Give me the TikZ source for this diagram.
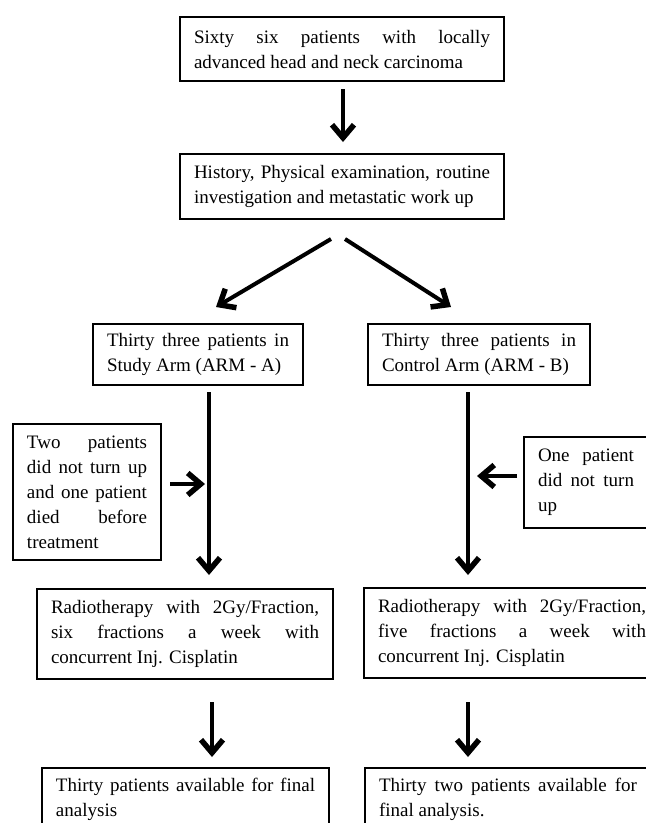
\documentclass[tikz,border=0pt]{standalone}
\usepackage{fontspec}
\setmainfont{Liberation Serif}
\usetikzlibrary{arrows.meta,calc}
\hyphenpenalty=10000
\exhyphenpenalty=10000
\begin{document}
\begin{tikzpicture}[x=1pt,y=-1pt,
  box/.style={draw,line width=2pt,rectangle,anchor=north west,align=justify,
    inner xsep=14pt,inner ysep=8pt,font=\fontsize{19pt}{25pt}\selectfont},
  arr/.style={line width=4pt,-{Straight Barb[length=13pt,width=22pt,line width=5.5pt 0 0]}}]
\useasboundingbox (0,0) rectangle (646,823);
\clip (0,0) rectangle (646,823);
\node[box,text width=296pt,minimum height=64pt] (b1) at (179,16)
  {Sixty six patients with locally\linebreak advanced head and neck carcinoma};
\node[box,text width=296pt,minimum height=65pt] (b2) at (179,153)
  {History, Physical examination, routine\linebreak investigation and metastatic work up};
\node[box,text width=182pt,minimum height=61pt] (bA) at (92,323)
  {Thirty three patients in\linebreak Study Arm (ARM - A)};
\node[box,text width=194pt,minimum height=61pt] (bB) at (367,323)
  {Thirty three patients in\linebreak Control Arm (ARM - B)};
\node[box,text width=120pt,minimum height=136pt] (two) at (12,423)
  {Two patients\linebreak did not turn up\linebreak and one patient\linebreak died before\linebreak treatment};
\node[box,text width=96pt,minimum height=91pt] (one) at (523,436)
  {One patient\linebreak did not turn\linebreak up};
\node[box,text width=268pt,minimum height=90pt] (rA) at (36,588)
  {Radiotherapy with 2Gy/Fraction,\linebreak six fractions a week with\linebreak concurrent Inj. Cisplatin};
\node[box,text width=268pt,minimum height=90pt] (rB) at (363,587)
  {Radiotherapy with 2Gy/Fraction,\linebreak five fractions a week with\linebreak concurrent Inj. Cisplatin};
\node[box,text width=259pt,inner ysep=10pt] (fA) at (41,767)
  {Thirty patients available for final\linebreak analysis};
\node[box,text width=258pt,inner ysep=10pt] (fB) at (364,767)
  {Thirty two patients available for\linebreak final analysis.};
\coordinate (xA) at (209,0);
\coordinate (xB) at (468,0);
\draw[arr] ($(b1.south)+(1,7)$) -- ($(b2.north)+(1,-11)$);
\draw[arr] ($(b2.south)+(-11,19)$) -- ($(bA.north)+(18,-16)$);
\draw[arr] ($(b2.south)+(3,19)$) -- ($(bB.north)+(-28,-16)$);
\draw[arr] ($(bA.south -| xA)+(0,6)$) -- ($(rA.north -| xA)+(0,-13)$);
\draw[arr] ($(bB.south -| xB)+(0,6)$) -- ($(rB.north -| xB)+(0,-12)$);
\draw[arr] ($(two.east)+(8,-8)$) -- ($(two.east -| xA)+(-4,-8)$);
\draw[arr] ($(one.west)+(-6,-6.5)$) -- ($(one.west -| xB)+(9,-6.5)$);
\draw[arr] ($(rA.south -| xA)+(3,22)$) -- ($(fA.north -| xA)+(3,-10)$);
\draw[arr] ($(rB.south -| xB)+(0,23)$) -- ($(fB.north -| xB)+(0,-10)$);
\end{tikzpicture}
\end{document}
